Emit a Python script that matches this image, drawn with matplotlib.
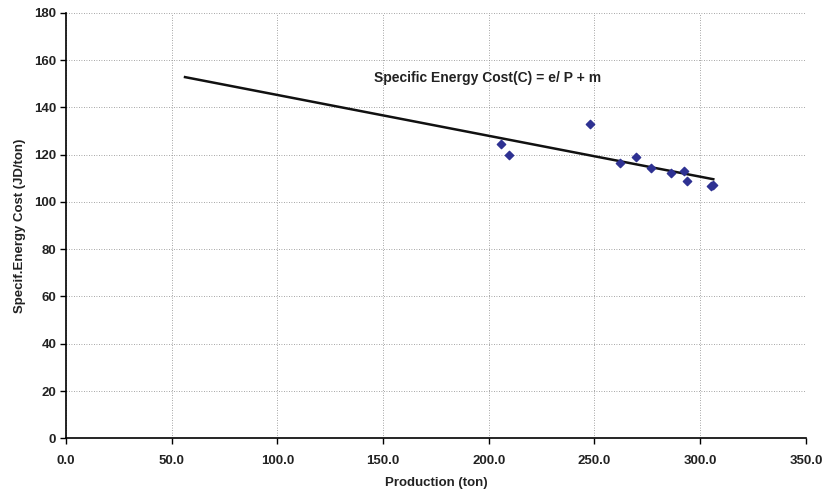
import matplotlib.pyplot as plt

# Production vs specific energy cost
production = [205.9, 209.4, 247.9, 261.9, 269.8, 276.7, 286.2, 292.2, 293.9, 305.0, 306.2]
energy_cost = [124.6, 120.0, 132.8, 116.3, 118.9, 114.3, 112.1, 113.1, 109.0, 106.9, 107.0]

# trend line end points
fit_x = [56.3, 306.2]
fit_y = [152.8, 109.6]

plt.rcParams['font.family'] = ['Liberation Sans', 'DejaVu Sans']
plt.rcParams['font.weight'] = 'bold'

fig = plt.figure(figsize=(8.23, 4.93), dpi=100)
ax = fig.add_axes([0.0802, 0.111, 0.899, 0.863])

ax.plot(fit_x, fit_y, color='#111111', linewidth=1.8, zorder=2)
ax.scatter(production, energy_cost, marker='D', s=18, color='#2E3192', zorder=3)

ax.text(145.5, 152.4, 'Specific Energy Cost(C) = e/ P + m', fontsize=10,
        fontweight='bold', va='center', ha='left', color='#222222')

ax.set_xlim(0, 350)
ax.set_ylim(0, 180)
ax.set_xticks(range(0, 351, 50))
ax.set_xticklabels([f'{v:.1f}' for v in range(0, 351, 50)])
ax.set_yticks(range(0, 181, 20))
ax.tick_params(labelsize=9.5, direction='out', length=4, width=1, pad=3,
               labelcolor='#222222')
ax.tick_params(axis='x', pad=8)
for lbl in ax.get_xticklabels() + ax.get_yticklabels():
    lbl.set_fontweight('bold')

ax.grid(True, color='#888888', linestyle=(0, (1, 2)), linewidth=0.6)
ax.set_axisbelow(True)
ax.spines['top'].set_visible(False)
ax.spines['right'].set_visible(False)
ax.spines['left'].set_linewidth(1.2)
ax.spines['bottom'].set_linewidth(1.2)

ax.set_xlabel('Production (ton)', fontsize=9.5, fontweight='bold', labelpad=7,
              color='#222222')
ax.set_ylabel('Specif.Energy Cost (JD/ton)', fontsize=9.5, fontweight='bold',
              labelpad=6, color='#222222')

fig.savefig('out.png', dpi=100)
